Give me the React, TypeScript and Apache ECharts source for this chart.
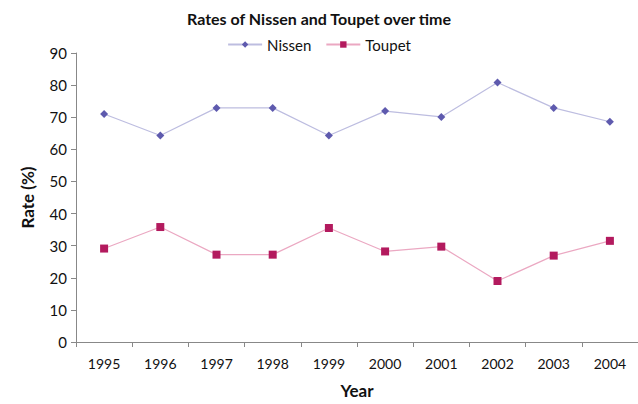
import React, { useEffect, useRef } from "react";
import * as echarts from "echarts";

const years = ["1995", "1996", "1997", "1998", "1999", "2000", "2001", "2002", "2003", "2004"];
const nissen = [71.0, 64.3, 72.9, 72.9, 64.3, 71.9, 70.1, 80.8, 72.9, 68.6];
const toupet = [29.1, 35.8, 27.2, 27.2, 35.5, 28.2, 29.7, 19.0, 26.9, 31.5];

const FONT = "Lato, 'Open Sans', sans-serif";

export default function App() {
  const ref = useRef<HTMLDivElement>(null);
  useEffect(() => {
    const chart = echarts.init(ref.current!, null, { renderer: "svg" });
    chart.setOption({
      animation: false,
      backgroundColor: "#ffffff",
      title: {
        text: "Rates of Nissen and Toupet over time",
        left: "center",
        top: 5,
        textStyle: { fontFamily: FONT, fontSize: 16, fontWeight: "bold", color: "#111" },
      },
      legend: {
        top: 32,
        left: "center",
        itemWidth: 34,
        itemHeight: 8,
        itemGap: 14,
        textStyle: { fontFamily: FONT, fontSize: 15, color: "#111" },
        data: ["Nissen", "Toupet"],
      },
      grid: { left: 76, right: 0, top: 53, bottom: 56, containLabel: false },
      xAxis: {
        type: "category",
        data: years,
        boundaryGap: true,
        name: "Year",
        nameLocation: "middle",
        nameGap: 40,
        nameTextStyle: { fontFamily: FONT, fontSize: 17, fontWeight: "bold", color: "#111" },
        axisLine: { lineStyle: { color: "#888", width: 1 } },
        axisTick: { show: true, alignWithLabel: false, length: 5, lineStyle: { color: "#888" } },
        axisLabel: { fontFamily: FONT, fontSize: 14, color: "#111", margin: 14 },
        splitLine: { show: false },
      },
      yAxis: {
        type: "value",
        min: 0,
        max: 90,
        interval: 10,
        name: "Rate (%)",
        nameLocation: "middle",
        nameGap: 40,
        nameRotate: 90,
        nameTextStyle: { fontFamily: FONT, fontSize: 17, fontWeight: "bold", color: "#111" },
        axisLine: { show: true, lineStyle: { color: "#888", width: 1 } },
        axisTick: { show: true, length: 5, lineStyle: { color: "#888" } },
        axisLabel: { fontFamily: FONT, fontSize: 15, color: "#111", margin: 9 },
        splitLine: { show: false },
      },
      series: [
        {
          name: "Nissen",
          type: "line",
          data: nissen,
          symbol: "diamond",
          symbolSize: 8,
          itemStyle: { color: "#5E5AAE" },
          lineStyle: { color: "#BDBDE0", width: 1.2 },
        },
        {
          name: "Toupet",
          type: "line",
          data: toupet,
          symbol: "rect",
          symbolSize: 8,
          itemStyle: { color: "#B31A5E" },
          lineStyle: { color: "#EBA8C2", width: 1.2 },
        },
      ],
    });
    return () => chart.dispose();
  }, []);
  return <div ref={ref} style={{ width: 638, height: 404, position: "absolute", left: 0, top: 0 }} />;
}
